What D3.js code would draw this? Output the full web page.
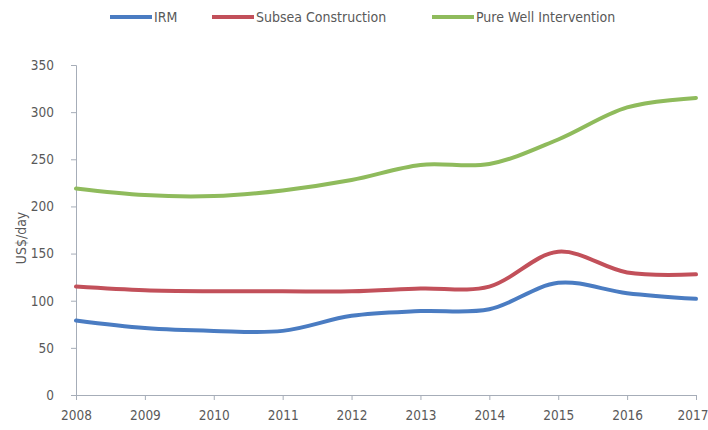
<!DOCTYPE html>
<html>
<head>
<meta charset="utf-8">
<script src="https://cdn.jsdelivr.net/npm/d3@7/dist/d3.min.js"></script>
<style>
  html, body { margin: 0; padding: 0; background: #fff; }
  svg { display: block; }
  text { font-family: "Liberation Sans Narrow", "DejaVu Sans Condensed", "Liberation Sans", sans-serif; fill: #595959; }
</style>
</head>
<body>
<svg id="chart" width="708" height="430"></svg>
<script>
// Day rates by vessel segment, 2008–2017
const years = [2008, 2009, 2010, 2011, 2012, 2013, 2014, 2015, 2016, 2017];
const irm = [79, 71, 68, 68, 84, 89, 91, 119, 108, 102];
const subseaConstruction = [115, 111, 110, 110, 110, 113, 115, 152, 130, 128];
const pureWellIntervention = [219, 212, 211, 217, 228, 244, 245, 271, 305, 315];
const seriesNames = ["IRM", "Subsea Construction", "Pure Well Intervention"];
const seriesColors = ["#4a7cc2", "#c2505a", "#8fbb5c"];
const yTicks = [0, 50, 100, 150, 200, 250, 300, 350];

const series = [irm, subseaConstruction, pureWellIntervention];

const svg = d3.select("#chart");
const x = d3.scaleLinear().domain([2008, 2017]).range([76, 696]);
const y = d3.scaleLinear().domain([0, 350]).range([395, 65]);

const axisColor = "#a6adb8";

// y axis
const yAxis = svg.append("g").attr("transform", "translate(76,0)")
  .call(d3.axisLeft(y).tickValues(yTicks).tickSize(5).tickPadding(17));
yAxis.selectAll("text").style("font-size", "13.5px");

// x axis
const xAxis = svg.append("g").attr("transform", "translate(0,395)")
  .call(d3.axisBottom(x).tickValues(years).tickFormat(d3.format("d")).tickSize(5).tickPadding(10));
xAxis.selectAll("text").style("font-size", "13.5px");
// keep the last year label inside the canvas
xAxis.selectAll(".tick").filter(d => d === 2017).select("text")
  .attr("text-anchor", "end").attr("dx", "12");

svg.selectAll(".domain, .tick line").attr("stroke", axisColor).attr("stroke-width", 1);

// axis title
svg.append("text")
  .attr("transform", "translate(26,238) rotate(-90)")
  .attr("text-anchor", "middle")
  .style("font-size", "14px")
  .text("US$/day");

// smoothed series lines
const line = d3.line()
  .x((d, i) => x(years[i]))
  .y(d => y(d))
  .curve(d3.curveCatmullRom.alpha(0.5));

series.forEach((vals, i) => {
  svg.append("path")
    .datum(vals)
    .attr("fill", "none")
    .attr("stroke", seriesColors[i])
    .attr("stroke-width", 4)
    .attr("stroke-linecap", "round")
    .attr("d", line);
});

// legend
const legendX = [110, 212, 432];
const legend = svg.append("g");
seriesNames.forEach((name, i) => {
  legend.append("line")
    .attr("x1", legendX[i]).attr("x2", legendX[i] + 42)
    .attr("y1", 17).attr("y2", 17)
    .attr("stroke", seriesColors[i]).attr("stroke-width", 4);
  legend.append("text")
    .attr("x", legendX[i] + 44).attr("y", 22)
    .style("font-size", "14px")
    .text(name);
});
</script>
</body>
</html>
